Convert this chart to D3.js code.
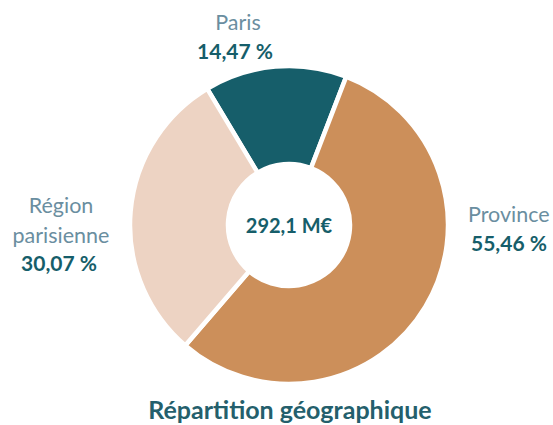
<!DOCTYPE html>
<html>
<head>
<meta charset="utf-8">
<script src="https://cdn.jsdelivr.net/npm/d3@7"></script>
<style>
  body { margin: 0; background: #fff; }
  text { font-family: Lato, "Open Sans", sans-serif; }
</style>
</head>
<body>
<div id="chart"></div>
<script>
// Répartition géographique
var categories = ["Paris", "Province", "Région parisienne"];
var shares = [14.47, 55.46, 30.07];
var labels = ["14,47 %", "55,46 %", "30,07 %"];
var colors = ["#165e6a", "#cc8f5a", "#edd3c3"];
var total = "292,1 M€";
var title = "Répartition géographique";

var width = 553, height = 425;
var cx = 289, cy = 225;
var outerR = 159, innerR = 61;

var svg = d3.select("#chart").append("svg")
    .attr("width", width)
    .attr("height", height);

var data = categories.map(function(c, i) {
    return { name: c, value: shares[i], label: labels[i], color: colors[i] };
});

var start = -31 * Math.PI / 180;
var pie = d3.pie()
    .value(function(d) { return d.value; })
    .sort(null)
    .startAngle(start)
    .endAngle(start + 2 * Math.PI);

var arc = d3.arc()
    .innerRadius(innerR)
    .outerRadius(outerR);

var g = svg.append("g")
    .attr("transform", "translate(" + cx + "," + cy + ")");

g.selectAll("path")
    .data(pie(data))
    .enter().append("path")
    .attr("d", arc)
    .attr("fill", function(d) { return d.data.color; })
    .attr("stroke", "#fff")
    .attr("stroke-width", 4.5);

// centre value
g.append("text")
    .attr("text-anchor", "middle")
    .attr("y", 8)
    .attr("font-size", 20)
    .attr("font-weight", "bold")
    .attr("fill", "#165e6a")
    .text(total);

// labels
var nameColor = "#6a8ea0", valueColor = "#165e6a";
var labelPos = [
    { x: 238, y: 30, anchor: "middle", lines: ["Paris"], vx: 235 },
    { x: 468, y: 222, anchor: "start", lines: ["Province"], vx: 471 },
    { x: 61, y: 213, anchor: "middle", lines: ["Région", "parisienne"], vx: 59 }
];

data.forEach(function(d, i) {
    var p = labelPos[i];
    var t = svg.append("g");
    p.lines.forEach(function(l, j) {
        t.append("text")
            .attr("x", p.x)
            .attr("y", p.y + j * 30)
            .attr("text-anchor", p.anchor)
            .attr("font-size", 21.5)
            .attr("fill", nameColor)
            .text(l);
    });
    t.append("text")
        .attr("x", p.vx)
        .attr("y", p.y + p.lines.length * 29)
        .attr("text-anchor", p.anchor)
        .attr("font-size", 21)
        .attr("font-weight", "bold")
        .attr("fill", valueColor)
        .text(d.label);
});

svg.append("text")
    .attr("x", 290)
    .attr("y", 419)
    .attr("text-anchor", "middle")
    .attr("font-size", 25)
    .attr("font-weight", "bold")
    .attr("fill", "#245f6c")
    .text(title);
</script>
</body>
</html>
